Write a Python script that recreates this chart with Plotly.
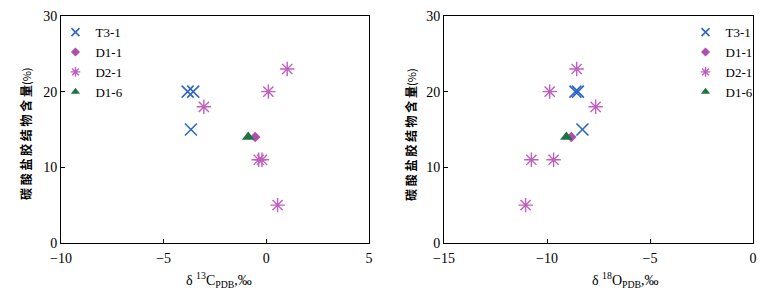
import plotly.graph_objects as go
from plotly.subplots import make_subplots

series = ["T3-1", "D1-1", "D2-1", "D1-6"]

# Left panel: delta13C vs carbonate cement content
c13_t31 = [-3.83, -3.56, -3.67]
y_c_t31 = [20, 20, 15]
c13_d11 = [-0.54]
y_c_d11 = [14]
c13_d21 = [1.02, 0.10, -3.04, -0.37, -0.21, 0.55]
y_c_d21 = [23, 20, 18, 11, 11, 5]
c13_d16 = [-0.88]
y_c_d16 = [14]

# Right panel: delta18O vs carbonate cement content
o18_t31 = [-8.62, -8.50, -8.28]
y_o_t31 = [20, 20, 15]
o18_d11 = [-8.82]
y_o_d11 = [14]
o18_d21 = [-8.56, -9.87, -7.64, -10.76, -9.68, -11.04]
y_o_d21 = [23, 20, 18, 11, 11, 5]
o18_d16 = [-9.06]
y_o_d16 = [14]

left_x_ticks = [-10, -5, 0, 5]
right_x_ticks = [-15, -10, -5, 0]
y_ticks = [0, 10, 20, 30]

colors = {"T3-1": "#2F67C8", "D1-1": "#B04EB0", "D2-1": "#BF5FBF", "D1-6": "#1E7440"}
symbols = {"T3-1": "x-thin-open", "D1-1": "diamond", "D2-1": "asterisk-open", "D1-6": "triangle-up"}
sizes = {"T3-1": 12, "D1-1": 8, "D2-1": 12, "D1-6": 11}
leg_sizes = {"T3-1": 8, "D1-1": 7, "D2-1": 8, "D1-6": 8}
lw = {"T3-1": 1.6, "D1-1": 0, "D2-1": 1.4, "D1-6": 0}

fig = make_subplots(rows=1, cols=2, horizontal_spacing=0.1)

left_data = {"T3-1": (c13_t31, y_c_t31), "D1-1": (c13_d11, y_c_d11),
             "D2-1": (c13_d21, y_c_d21), "D1-6": (c13_d16, y_c_d16)}
right_data = {"T3-1": (o18_t31, y_o_t31), "D1-1": (o18_d11, y_o_d11),
              "D2-1": (o18_d21, y_o_d21), "D1-6": (o18_d16, y_o_d16)}

for col, data, leg in [(1, left_data, "legend"), (2, right_data, "legend2")]:
    for s in series:
        xs, ys = data[s]
        fig.add_trace(go.Scatter(
            x=xs, y=ys, mode="markers", name=s, showlegend=False,
            marker=dict(symbol=symbols[s], size=sizes[s], color=colors[s],
                        line=dict(width=lw[s], color=colors[s])),
        ), row=1, col=col)
        # legend-only entry with smaller symbol
        fig.add_trace(go.Scatter(
            x=[None], y=[None], mode="markers", name=s, legend=leg, showlegend=True,
            marker=dict(symbol=symbols[s], size=leg_sizes[s], color=colors[s],
                        line=dict(width=lw[s], color=colors[s])),
        ), row=1, col=col)

serif = "Liberation Serif, Times New Roman, serif"
axis_common = dict(showgrid=False, zeroline=False, showline=True, linecolor="black",
                   linewidth=1, mirror=True, ticks="inside", ticklen=4, tickcolor="black",
                   tickfont=dict(family=serif, size=14, color="black"))

fig.update_xaxes(range=[-10, 5], tickvals=left_x_ticks, ticklabelstandoff=2,
                 ticktext=["\u221210", "\u22125", "0", "5"], row=1, col=1, **axis_common)
fig.update_xaxes(range=[-15, 0], tickvals=right_x_ticks, ticklabelstandoff=2,
                 ticktext=["\u221215", "\u221210", "\u22125", "0"], row=1, col=2, **axis_common)
fig.update_yaxes(range=[0, 30], tickvals=y_ticks, row=1, col=1, **axis_common)
fig.update_yaxes(range=[0, 30], tickvals=y_ticks, row=1, col=2, **axis_common)

fig.update_layout(
    xaxis=dict(domain=[0, 0.445]),
    xaxis2=dict(domain=[0.5535, 1]),
)

ytitle = "<b>碳 酸 盐 胶 结 物 含 量</b><span style='font-size:11px'>(%)</span>"
cjk = "Noto Sans CJK SC"
fig.add_annotation(text=ytitle, xref="paper", yref="paper",
                   x=-0.0520, y=0.48, xanchor="center", yanchor="middle",
                   textangle=-90, showarrow=False,
                   font=dict(family=cjk, size=12, color="black"))
fig.add_annotation(text=ytitle, xref="paper", yref="paper",
                   x=0.5043, y=0.48, xanchor="center", yanchor="middle",
                   textangle=-90, showarrow=False,
                   font=dict(family=cjk, size=12, color="black"))

fig.add_annotation(text="δ <sup>13</sup>C<sub>PDB</sub>,‰", xref="x", yref="paper",
                   x=-2.3, y=-0.11, yanchor="top", showarrow=False,
                   font=dict(family=serif, size=14, color="black"))
fig.add_annotation(text="δ <sup>18</sup>O<sub>PDB</sub>,‰", xref="x2", yref="paper",
                   x=-6.2, y=-0.11, yanchor="top", showarrow=False,
                   font=dict(family=serif, size=14, color="black"))

legend_font = dict(family=serif, size=13, color="black")
fig.update_layout(
    width=777, height=291,
    margin=dict(l=61, r=24, t=9, b=48),
    paper_bgcolor="white", plot_bgcolor="white",
    legend=dict(x=-0.008, y=0.995, xanchor="left", yanchor="top", font=legend_font,
                bgcolor="rgba(0,0,0,0)", tracegroupgap=0, itemwidth=30),
    legend2=dict(x=1.008, y=0.995, xanchor="right", yanchor="top", font=legend_font,
                 bgcolor="rgba(0,0,0,0)", tracegroupgap=0, itemwidth=30),
)

fig.write_html("out.html", config={"displayModeBar": False},
               post_script="document.body.style.margin='0';document.body.style.overflow='hidden';")
